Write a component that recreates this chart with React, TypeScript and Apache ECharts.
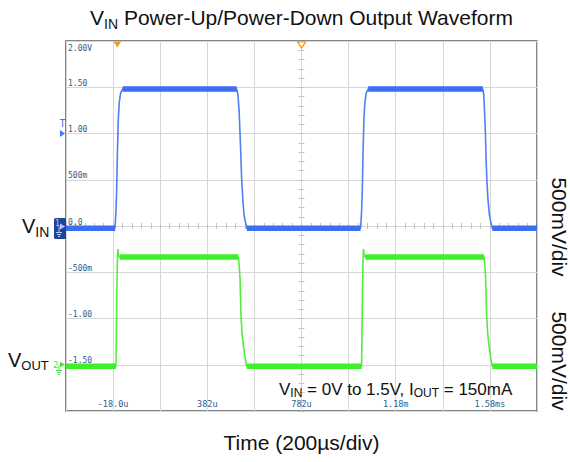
import React, { useEffect, useRef } from 'react';
import * as echarts from 'echarts';

const FONT = "'Liberation Sans', Arial, sans-serif";
const MONO = "'DejaVu Sans Mono', monospace";

// Time axis in microseconds: 10 divisions x 200 us
const timeMin = -218;
const timeMax = 1782;
const triggerTime = 0;
const centerTime = 782;
const triggerLevel = 1.0;

// Channel 1: VIN (V)
const vinTimes = [-218, -10, -6, -3, 0, 4, 8, 14, 22, 507, 512, 517, 521, 525, 528, 533, 538, 544, 550, 1033, 1037, 1040, 1043, 1047, 1051, 1057, 1065, 1552, 1556, 1560, 1563, 1566, 1569, 1574, 1580, 1586, 1592, 1782];
const vinVolts = [-0.025, -0.025, 0.15, 0.37, 0.75, 1.15, 1.33, 1.44, 1.48, 1.48, 1.42, 1.25, 1.0, 0.72, 0.5, 0.28, 0.12, 0.04, -0.025, -0.025, 0.15, 0.37, 0.75, 1.15, 1.33, 1.44, 1.48, 1.48, 1.42, 1.2, 1.0, 0.72, 0.5, 0.28, 0.12, 0.04, -0.025, -0.025];

// Channel 2: VOUT (V)
const voutTimes = [-218, -6, -4, -2, 0, 2, 5, 10, 514, 518, 521, 525, 530, 535, 542, 549, 1037, 1039, 1041, 1043, 1045, 1048, 1053, 1557, 1561, 1564, 1568, 1573, 1578, 1585, 1592, 1782];
const voutVolts = [-0.015, -0.015, 0.35, 0.8, 1.1, 1.25, 1.18, 1.165, 1.165, 1.05, 0.93, 0.53, 0.33, 0.21, 0.08, -0.015, -0.015, 0.35, 0.8, 1.1, 1.25, 1.18, 1.165, 1.165, 1.05, 0.93, 0.53, 0.33, 0.21, 0.08, -0.015, -0.015];

// Tick labels
const xDivLabels = ['', '-18.0u', '', '382u', '', '782u', '', '1.18m', '', '1.58ms', ''];
const yDivLabels = ['', '-1.50', '-1.00', '-500m', '0.0', '500m', '1.00', '1.50', '2.00V'];

const G = { left: 66, top: 41, width: 471, height: 370 };
const LABEL_COLOR = '#2f5b8a';
const GRID_COLOR = '#d6d6d6';
const TICK_COLOR = '#c2c2c2';

function pairs(ts: number[], vs: number[]) {
  return ts.map((t, i) => [t, vs[i]]);
}

function flatRuns(ts: number[], vs: number[]) {
  const out: any[] = [];
  for (let i = 0; i < ts.length - 1; i++) {
    if (Math.abs(vs[i] - vs[i + 1]) < 1e-9) {
      out.push([ts[i], vs[i]], [ts[i + 1], vs[i + 1]], [ts[i + 1], '-']);
    }
  }
  return out;
}

function richLabel(main: number, sub: number, subH: number, color: string) {
  return {
    m: { fontSize: main, fontFamily: FONT, fill: color, lineHeight: main + 4 },
    s: { fontSize: sub, fontFamily: FONT, fill: color, verticalAlign: 'bottom', height: subH },
  };
}

const centerTickAxisX = (inside: boolean) => ({
  type: 'value', min: 0, max: 10, interval: 1, position: 'bottom', offset: -G.height / 2,
  axisLine: { show: false },
  axisTick: { show: true, inside, length: 3, lineStyle: { color: TICK_COLOR } },
  minorTick: { show: true, splitNumber: 5, length: 3, lineStyle: { color: TICK_COLOR } },
  axisLabel: { show: false }, splitLine: { show: false },
});

const centerTickAxisY = (inside: boolean) => ({
  type: 'value', min: -2, max: 2, interval: 0.5, position: 'left', offset: -G.width / 2,
  axisLine: { show: false },
  axisTick: { show: true, inside, length: 3, lineStyle: { color: TICK_COLOR } },
  minorTick: { show: true, splitNumber: 5, length: 3, lineStyle: { color: TICK_COLOR } },
  axisLabel: { show: false }, splitLine: { show: false },
});

const option: any = {
  animation: false,
  backgroundColor: '#ffffff',
  grid: { ...G, show: true, borderColor: '#5e5e5e', borderWidth: 1.5, backgroundColor: '#ffffff' },
  xAxis: [
    { type: 'value', min: timeMin, max: timeMax, show: false },
    {
      type: 'value', min: 0, max: 10, interval: 1, position: 'bottom',
      axisLine: { show: false }, axisTick: { show: false },
      splitLine: { show: true, lineStyle: { color: GRID_COLOR, width: 1 } },
      axisLabel: {
        inside: true, margin: 3, color: LABEL_COLOR, fontSize: 8.5, fontFamily: MONO,
        formatter: (v: number) => xDivLabels[Math.round(v)] || '',
      },
    },
    centerTickAxisX(true),
    centerTickAxisX(false),
  ],
  yAxis: [
    {
      type: 'value', min: -2, max: 2, interval: 0.5, position: 'left',
      axisLine: { show: false }, axisTick: { show: false },
      splitLine: { show: true, lineStyle: { color: GRID_COLOR, width: 1 } },
      axisLabel: {
        inside: true, margin: 2, verticalAlign: 'bottom', color: LABEL_COLOR, fontSize: 8, fontFamily: MONO,
        formatter: (v: number) => (v >= 2 ? '' : yDivLabels[Math.round((v + 2) / 0.5)] || ''),
      },
    },
    { type: 'value', min: -0.5, max: 3.5, show: false },
    {
      type: 'value', min: -2, max: 2, interval: 0.5, position: 'left',
      axisLine: { show: false }, axisTick: { show: false }, splitLine: { show: false },
      axisLabel: {
        inside: true, margin: 2, verticalAlign: 'top', padding: [3, 0, 0, 0], color: LABEL_COLOR, fontSize: 8, fontFamily: MONO,
        formatter: (v: number) => (v >= 2 ? yDivLabels[8] : ''),
      },
    },
    centerTickAxisY(true),
    centerTickAxisY(false),
  ],
  series: [
    {
      type: 'line', xAxisIndex: 0, yAxisIndex: 0, data: pairs(vinTimes, vinVolts),
      showSymbol: false, lineStyle: { color: '#4f7ff0', width: 1.6 }, z: 3, silent: true,
      markPoint: {
        silent: true, animation: false,
        data: [
          { coord: [triggerTime, 2], symbol: 'triangle', symbolRotate: 180, symbolSize: [8, 6], symbolOffset: [0, 3.5], itemStyle: { color: '#f29b1d' }, label: { show: false } },
          { coord: [centerTime, 2], symbol: 'triangle', symbolRotate: 180, symbolSize: [8, 6], symbolOffset: [0, 4], itemStyle: { color: '#ffffff', borderColor: '#f29b1d', borderWidth: 1.2 }, label: { show: false } },
          { coord: [timeMin, triggerLevel], symbol: 'triangle', symbolRotate: -90, symbolSize: [7, 5], symbolOffset: [-3.5, 0], itemStyle: { color: '#4677ee' }, label: { show: true, formatter: 'T', position: 'top', distance: 2, color: '#4677ee', fontSize: 10, fontFamily: MONO } },
        ],
      },
    },
    {
      type: 'line', xAxisIndex: 0, yAxisIndex: 0, data: flatRuns(vinTimes, vinVolts),
      showSymbol: false, connectNulls: false, lineStyle: { color: '#3b6ef3', width: 5.5 }, z: 4, silent: true,
    },
    {
      type: 'line', xAxisIndex: 0, yAxisIndex: 1, data: pairs(voutTimes, voutVolts),
      showSymbol: false, lineStyle: { color: '#52ee3c', width: 1.6 }, z: 3, silent: true,
    },
    {
      type: 'line', xAxisIndex: 0, yAxisIndex: 1, data: flatRuns(voutTimes, voutVolts),
      showSymbol: false, connectNulls: false, lineStyle: { color: '#3df02a', width: 5.5 }, z: 4, silent: true,
    },
  ],
  graphic: [
    {
      type: 'text', z: 100, x: G.left + G.width / 2, y: 17,
      style: {
        text: '{m|V}{s|IN}{m| Power-Up/Power-Down Output Waveform}', align: 'center', verticalAlign: 'middle',
        rich: richLabel(21, 14, 12, '#111111'),
      },
    },
    {
      type: 'text', z: 100, x: 22, y: 226,
      style: { text: '{m|V}{s|IN}', align: 'left', verticalAlign: 'middle', rich: richLabel(20, 14, 12, '#111111') },
    },
    {
      type: 'text', z: 100, x: 8, y: 360,
      style: { text: '{m|V}{s|OUT}', align: 'left', verticalAlign: 'middle', rich: richLabel(20, 13, 13, '#111111') },
    },
    {
      type: 'text', z: 100, x: 279, y: 389,
      style: {
        text: '{m|V}{s|IN}{m| = 0V to 1.5V, I}{s|OUT}{m| = 150mA}', align: 'left', verticalAlign: 'middle',
        rich: richLabel(17, 12, 13, '#111111'),
      },
    },
    {
      type: 'text', z: 100, x: G.left + G.width / 2, y: 442,
      style: { text: 'Time (200µs/div)', align: 'center', verticalAlign: 'middle', fontSize: 21, fontFamily: FONT, fill: '#111111' },
    },
    {
      type: 'text', z: 100, x: 559, y: 227, rotation: -Math.PI / 2,
      style: { text: '500mV/div', align: 'center', verticalAlign: 'middle', fontSize: 21, fontFamily: FONT, fill: '#111111' },
    },
    {
      type: 'text', z: 100, x: 559, y: 361, rotation: -Math.PI / 2,
      style: { text: '500mV/div', align: 'center', verticalAlign: 'middle', fontSize: 21, fontFamily: FONT, fill: '#111111' },
    },
    {
      type: 'group', z: 100,
      children: [
        { type: 'rect', z: 100, shape: { x: 54, y: 218, width: 12, height: 21, r: 1.5 }, style: { fill: '#1d4496' } },
        { type: 'text', z: 101, style: { x: 55, y: 219, text: '1', fill: '#b4ccff', fontSize: 8, fontFamily: MONO } },
        { type: 'polygon', z: 101, shape: { points: [[60, 223.5], [65, 226.5], [60, 229.5]] }, style: { fill: '#b4ccff' } },
        { type: 'line', z: 101, shape: { x1: 59, y1: 226.5, x2: 59, y2: 232 }, style: { stroke: '#b4ccff', lineWidth: 1 } },
        { type: 'line', z: 101, shape: { x1: 56, y1: 232.5, x2: 62, y2: 232.5 }, style: { stroke: '#b4ccff', lineWidth: 1 } },
        { type: 'line', z: 101, shape: { x1: 57, y1: 234.5, x2: 61, y2: 234.5 }, style: { stroke: '#b4ccff', lineWidth: 1 } },
        { type: 'line', z: 101, shape: { x1: 58, y1: 236.5, x2: 60, y2: 236.5 }, style: { stroke: '#b4ccff', lineWidth: 1 } },
      ],
    },
    {
      type: 'group', z: 100,
      children: [
        { type: 'text', z: 101, style: { x: 53, y: 360, text: '2', fill: '#4fe04f', fontSize: 9, fontFamily: MONO } },
        { type: 'polygon', z: 101, shape: { points: [[60, 361.5], [65, 364.5], [60, 367.5]] }, style: { fill: '#4fe04f' } },
        { type: 'line', z: 101, shape: { x1: 59, y1: 364.5, x2: 59, y2: 370 }, style: { stroke: '#4fe04f', lineWidth: 1 } },
        { type: 'line', z: 101, shape: { x1: 56, y1: 370.5, x2: 62, y2: 370.5 }, style: { stroke: '#4fe04f', lineWidth: 1 } },
        { type: 'line', z: 101, shape: { x1: 57, y1: 372.5, x2: 61, y2: 372.5 }, style: { stroke: '#4fe04f', lineWidth: 1 } },
        { type: 'line', z: 101, shape: { x1: 58, y1: 374.5, x2: 60, y2: 374.5 }, style: { stroke: '#4fe04f', lineWidth: 1 } },
      ],
    },
  ],
};

export default function App() {
  const ref = useRef<HTMLDivElement>(null);
  useEffect(() => {
    if (!ref.current) return;
    const chart = echarts.init(ref.current, undefined, { renderer: 'svg', width: 570, height: 462 });
    chart.setOption(option);
    return () => chart.dispose();
  }, []);
  return (
    <div
      ref={ref}
      style={{ position: 'absolute', left: 0, top: 0, width: 570, height: 462, background: '#ffffff' }}
    />
  );
}
